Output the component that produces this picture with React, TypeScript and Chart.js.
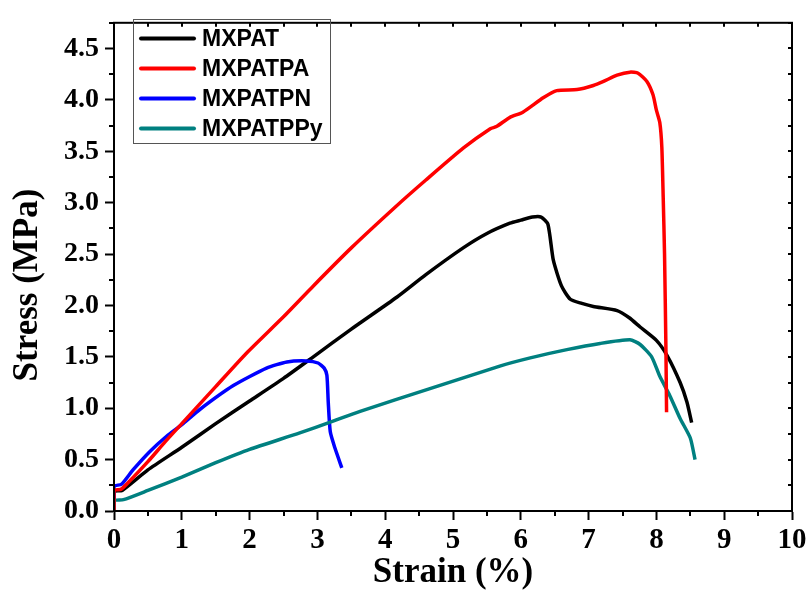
import React, { useEffect, useRef } from "react";
import { Chart, registerables } from "chart.js";

Chart.register(...registerables);

const seriesLabels = ["MXPAT", "MXPATPA", "MXPATPN", "MXPATPPy"];
const seriesColors = ["#000000", "#ff0000", "#0000ff", "#008080"];

const mxpatStrain = [0, 0, 0.12, 0.5, 1, 1.5, 2, 2.5, 2.94, 3.5, 4.17, 4.6, 5.15, 5.5, 5.84, 6.0, 6.17, 6.3, 6.4, 6.48, 6.6, 6.73, 6.9, 7.07, 7.42, 7.6, 7.76, 8.0, 8.16, 8.35, 8.45, 8.52];
const mxpatStress = [0, 0.19, 0.2, 0.4, 0.62, 0.85, 1.07, 1.29, 1.5, 1.77, 2.08, 2.3, 2.56, 2.7, 2.8, 2.83, 2.86, 2.86, 2.79, 2.44, 2.19, 2.06, 2.02, 1.99, 1.95, 1.88, 1.79, 1.66, 1.51, 1.25, 1.06, 0.86];

const mxpatpaStrain = [0, 0, 0.1, 0.2, 0.5, 0.75, 1, 1.5, 1.96, 2.5, 2.94, 3.5, 4.17, 4.6, 5.15, 5.55, 5.64, 5.84, 6.03, 6.33, 6.53, 6.83, 7.07, 7.22, 7.42, 7.61, 7.73, 7.86, 7.95, 8.0, 8.05, 8.08, 8.1, 8.12, 8.14, 8.15];
const mxpatpaStress = [0, 0.2, 0.21, 0.27, 0.48, 0.67, 0.85, 1.21, 1.54, 1.89, 2.19, 2.56, 2.97, 3.22, 3.53, 3.72, 3.74, 3.83, 3.88, 4.02, 4.09, 4.1, 4.14, 4.18, 4.24, 4.27, 4.26, 4.18, 4.05, 3.9, 3.78, 3.54, 3.06, 2.5, 1.6, 0.96];

const mxpatpnStrain = [0, 0, 0.11, 0.28, 0.53, 0.78, 1, 1.27, 1.76, 2.25, 2.55, 2.84, 3.01, 3.1, 3.14, 3.16, 3.19, 3.26, 3.36];
const mxpatpnStress = [0, 0.24, 0.26, 0.4, 0.58, 0.73, 0.84, 0.99, 1.22, 1.39, 1.45, 1.46, 1.44, 1.39, 1.32, 1.06, 0.77, 0.61, 0.42];

const mxpatppyStrain = [0, 0, 0.14, 0.5, 1, 1.5, 2, 2.74, 3.19, 3.63, 4.66, 5.69, 6.14, 6.68, 7.17, 7.61, 7.76, 7.93, 8.05, 8.2, 8.35, 8.5, 8.57];
const mxpatppyStress = [0, 0.1, 0.11, 0.2, 0.33, 0.47, 0.6, 0.76, 0.865, 0.97, 1.19, 1.41, 1.49, 1.57, 1.63, 1.665, 1.62, 1.5, 1.31, 1.12, 0.9, 0.71, 0.5];

const strainData = [mxpatStrain, mxpatpaStrain, mxpatpnStrain, mxpatppyStrain];
const stressData = [mxpatStress, mxpatpaStress, mxpatpnStress, mxpatppyStress];
const drawOrder = [4, 1, 3, 2];

const xTitle = "Strain (%)";
const yTitle = "Stress (MPa)";

const serif = "'Liberation Serif', 'Times New Roman', serif";
const sans = "'Liberation Sans', Arial, sans-serif";

const framePlugin = {
  id: "framePlugin",
  afterDraw(chart: any) {
    const { ctx, chartArea } = chart;
    const xs = chart.scales.x;
    const ys = chart.scales.y;
    const { left, right, top, bottom } = chartArea;
    ctx.save();
    ctx.strokeStyle = "#000";
    ctx.lineWidth = 2;
    ctx.strokeRect(left, top, right - left, bottom - top);
    ctx.beginPath();
    for (let v = 0; v <= 10.001; v += 0.5) {
      const px = Math.round(xs.getPixelForValue(v));
      if (Math.abs(v - Math.round(v)) > 0.01) {
        ctx.moveTo(px, bottom);
        ctx.lineTo(px, bottom + 5);
      }
      ctx.moveTo(px, top);
      ctx.lineTo(px, top + 4);
    }
    for (let v = 0; v <= 4.751; v += 0.25) {
      const py = Math.round(ys.getPixelForValue(v));
      if (Math.abs(v * 2 - Math.round(v * 2)) > 0.01) {
        ctx.moveTo(left, py);
        ctx.lineTo(left - 5, py);
      }
      ctx.moveTo(right, py);
      ctx.lineTo(right - 4, py);
    }
    ctx.stroke();

    // legend
    ctx.lineWidth = 1;
    ctx.strokeStyle = "#555";
    ctx.strokeRect(133.5, 19.5, 197, 124);
    ctx.font = `bold 23px ${sans}`;
    ctx.textBaseline = "middle";
    ctx.textAlign = "left";
    chart.data.datasets.forEach((ds: any, i: number) => {
      const y = 38.5 + i * 30;
      ctx.strokeStyle = ds.borderColor;
      ctx.lineWidth = 4;
      ctx.lineCap = "round";
      ctx.beginPath();
      ctx.moveTo(141, y);
      ctx.lineTo(194, y);
      ctx.stroke();
      ctx.fillStyle = "#000";
      ctx.fillText(ds.label, 202, y + 1);
    });

    // y title
    ctx.translate(28, 285);
    ctx.rotate(-Math.PI / 2);
    ctx.font = `bold 35px ${serif}`;
    ctx.textAlign = "center";
    ctx.textBaseline = "middle";
    ctx.fillStyle = "#000";
    ctx.fillText(yTitle, 0, 0);
    ctx.restore();
  },
};

export default function App() {
  const ref = useRef<HTMLCanvasElement>(null);
  useEffect(() => {
    document.body.style.margin = "0";
    const canvas = ref.current!;
    const chart = new Chart(canvas, {
      type: "line",
      data: {
        datasets: seriesLabels.map((label, i) => ({
          label,
          data: strainData[i].map((x, j) => ({ x, y: stressData[i][j] })),
          borderColor: seriesColors[i],
          backgroundColor: seriesColors[i],
          borderWidth: 3.5,
          pointRadius: 0,
          tension: 0.2,
          fill: false,
          order: drawOrder[i],
        })),
      },
      options: {
        responsive: false,
        animation: false,
        devicePixelRatio: 1,
        layout: { padding: { top: 14, right: 18, left: 0, bottom: 0 } },
        plugins: { legend: { display: false }, tooltip: { enabled: false } },
        scales: {
          x: {
            type: "linear",
            min: 0,
            max: 10,
            afterFit: (s: any) => {
              s.height = 79;
            },
            grid: { drawOnChartArea: false, drawTicks: true, tickLength: 9, tickWidth: 2, tickColor: "#000" },
            border: { display: true, color: "#000", width: 2 },
            ticks: {
              stepSize: 1,
              padding: 3,
              color: "#000",
              font: { family: serif, size: 29, weight: "bold" },
              callback: (v: any) => String(Math.round(Number(v))),
            },
            title: {
              display: true,
              text: xTitle,
              color: "#000",
              font: { family: serif, size: 35, weight: "bold", lineHeight: 1 },
              padding: { top: 0, bottom: 0 },
            },
          },
          y: {
            type: "linear",
            min: 0,
            max: 4.75,
            afterFit: (s: any) => {
              s.width = 114;
            },
            grid: { drawOnChartArea: false, drawTicks: true, tickLength: 9, tickWidth: 2, tickColor: "#000" },
            border: { display: true, color: "#000", width: 2 },
            ticks: {
              stepSize: 0.5,
              includeBounds: false,
              padding: 6,
              color: "#000",
              font: { family: serif, size: 28, weight: "bold" },
              callback: (v: any) => Number(v).toFixed(1),
            },
          },
        },
      },
      plugins: [framePlugin],
    } as any);
    return () => chart.destroy();
  }, []);
  return (
    <canvas ref={ref} width={810} height={590} style={{ display: "block", width: 810, height: 590 }} />
  );
}
